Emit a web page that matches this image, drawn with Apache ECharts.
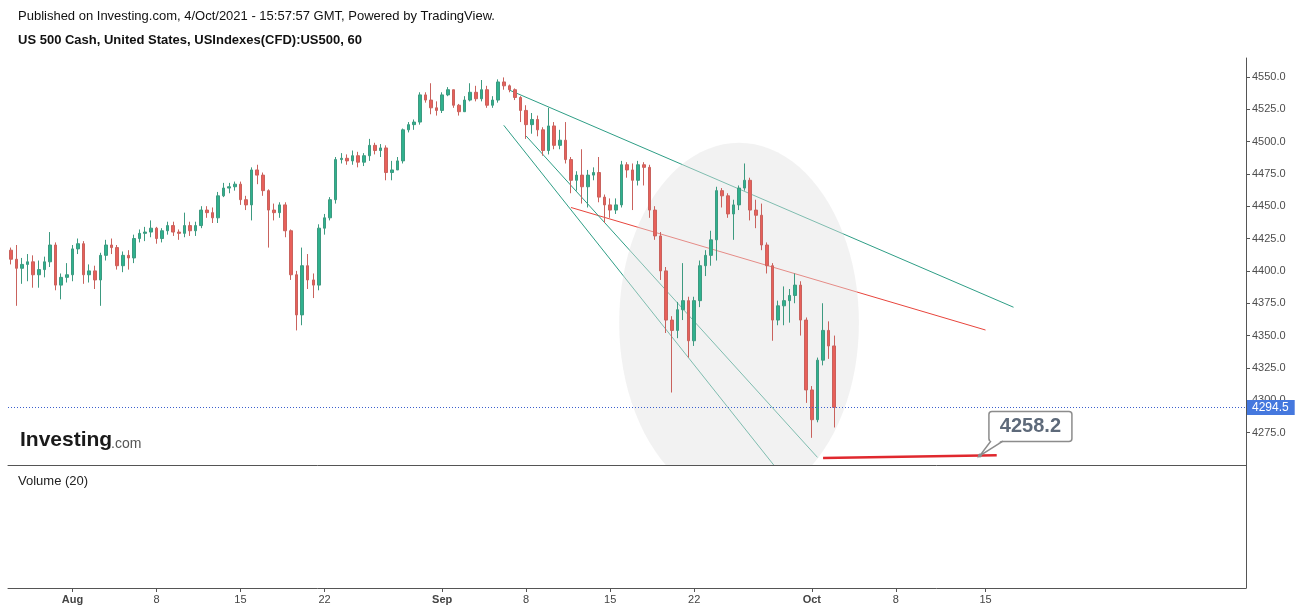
<!DOCTYPE html>
<html>
<head>
<meta charset="utf-8">
<title>US 500 Cash, 60</title>
<script src="https://cdn.jsdelivr.net/npm/echarts@6/dist/echarts.min.js"></script>
<style>
html, body { margin: 0; padding: 0; background: #fff; }
#main { width: 1299px; height: 612px; }
</style>
</head>
<body>
<div id="main"></div>
<script>
// trading sessions on the time axis, each one cut into 8h slots
var tradingDays = ['07-27','07-28','07-29','07-30',
	'08-02','08-03','08-04','08-05','08-06','08-09','08-10','08-11','08-12','08-13',
	'08-16','08-17','08-18','08-19','08-20','08-23','08-24','08-25','08-26','08-27',
	'08-30','08-31','09-01','09-02','09-03','09-06','09-07','09-08','09-09','09-10',
	'09-13','09-14','09-15','09-16','09-17','09-20','09-21','09-22','09-23','09-24',
	'09-27','09-28','09-29','09-30','10-01','10-04','10-05','10-06','10-07','10-08',
	'10-11','10-12','10-13','10-14','10-15','10-18','10-19','10-20','10-21','10-22',
	'10-25','10-26','10-27','10-28','10-29','11-01','11-02','11-03','11-04','11-05','11-08'];
var shortDays = ['07-27', '09-06'];
var slotCount = 221;

// date ticks on the time axis (slot index -> text)
var tickSlots = [11, 26, 41, 56, 77, 92, 107, 122, 143, 158, 174];
var tickTexts = ['Aug', '8', '15', '22', 'Sep', '8', '15', '22', 'Oct', '8', '15'];
var monthTicks = ['Aug', 'Sep', 'Oct'];

// US500 candles, 8h slots
var open = [4416,4409,4402,4405,4407,4397,4401,4407,4420,4389,
	4395,4397,4417,4421,4397,4400,4393,4412,4420,4418,
	4404,4412,4410,4425,4429,4430,4433,4425,4431,4435,
	4430,4429,4435,4431,4435,4447,4445,4441,4458,4464,
	4465,4467,4455,4451,4478,4474,4462,4447,4445,4451,
	4431,4397,4366,4404,4393,4389,4433,4441,4455,4486,
	4487,4485,4489,4484,4489,4497,4493,4495,4476,4478,
	4485,4509,4513,4515,4536,4532,4526,4524,4536,4540,
	4528,4523,4532,4538,4533,4540,4528,4532,4546,4543,
	4540,4534,4524,4513,4517,4509,4493,4512,4497,4501,
	4486,4470,4474,4465,4474,4476,4457,4451,4447,4451,
	4482,4478,4470,4482,4480,4447,4427,4400,4362,4354,
	4370,4377,4346,4377,4404,4412,4424,4462,4458,4444,
	4451,4464,4470,4447,4443,4420,4404,4362,4373,4377,
	4381,4389,4362,4308,4285,4331,4354,4342];
var close = [4409,4402,4405,4407,4397,4401,4407,4420,4389,4395,
	4397,4417,4421,4397,4400,4393,4412,4420,4418,4404,
	4412,4410,4425,4429,4430,4433,4425,4431,4435,4430,
	4429,4435,4431,4435,4447,4445,4441,4458,4464,4465,
	4467,4455,4451,4478,4474,4462,4447,4445,4451,4431,
	4397,4366,4404,4393,4389,4433,4441,4455,4486,4487,
	4485,4489,4484,4489,4497,4493,4495,4476,4478,4485,
	4509,4513,4515,4536,4532,4526,4524,4536,4540,4528,
	4523,4532,4538,4533,4540,4528,4532,4546,4543,4540,
	4534,4524,4513,4517,4509,4493,4512,4497,4501,4486,
	4470,4474,4465,4474,4476,4457,4451,4447,4451,4482,
	4478,4470,4482,4480,4447,4427,4400,4362,4354,4370,
	4377,4346,4377,4404,4412,4424,4462,4458,4444,4451,
	4464,4470,4447,4443,4420,4404,4362,4373,4377,4381,
	4389,4362,4308,4285,4331,4354,4342,4294.5];
var low = [4405,4373,4390,4392,4387,4387,4395,4403,4385,4378,
	4391,4392,4413,4390,4391,4386,4373,4408,4413,4401,
	4399,4401,4406,4422,4423,4426,4421,4422,4428,4427,
	4424,4426,4427,4427,4433,4441,4437,4437,4457,4460,
	4462,4451,4447,4439,4467,4458,4418,4439,4441,4426,
	4393,4354,4358,4386,4379,4385,4428,4439,4452,4483,
	4482,4482,4480,4481,4485,4490,4488,4470,4470,4478,
	4483,4507,4509,4513,4530,4521,4520,4522,4535,4526,
	4520,4523,4531,4531,4531,4526,4526,4530,4540,4538,
	4532,4515,4502,4506,4504,4489,4490,4494,4494,4483,
	4460,4462,4452,4449,4470,4453,4437,4441,4444,4449,
	4472,4447,4466,4466,4441,4424,4393,4352,4306,4348,
	4362,4333,4342,4372,4396,4404,4408,4449,4441,4424,
	4447,4462,4439,4433,4416,4398,4346,4358,4358,4360,
	4375,4350,4298,4271,4283,4327,4332,4279];
var high = [4418,4420,4410,4413,4412,4408,4411,4430,4422,4398,
	4406,4420,4425,4423,4405,4404,4414,4424,4425,4420,
	4415,4416,4428,4432,4434,4439,4434,4433,4438,4438,
	4432,4445,4438,4438,4450,4450,4449,4461,4468,4468,
	4469,4469,4458,4480,4482,4476,4463,4452,4453,4453,
	4432,4400,4418,4413,4398,4436,4444,4457,4488,4491,
	4490,4493,4492,4491,4502,4499,4498,4497,4485,4488,
	4510,4515,4517,4538,4538,4545,4531,4538,4542,4540,
	4529,4535,4545,4543,4547.5,4543,4535,4548,4549.5,4544,
	4541,4535,4528,4522,4520,4511,4526,4515,4509,4515,
	4488,4477,4494,4478,4480,4488,4459,4456,4456,4485,
	4484,4483,4485,4484,4482,4450,4430,4403,4365,4376,
	4406,4380,4380,4408,4416,4431,4465,4464,4460,4455,
	4466,4483,4472,4455,4452,4422,4406,4377,4388,4386,
	4398,4392,4364,4311,4333,4375,4361,4350];
var lastPrice = 4294.5;

// drawings: [slot, price] end points
var trendLines = [
	[[89, 4539.7], [179, 4371.9]],
	[[100, 4449.0], [174, 4354.3]],
	[[88, 4512.5], [137, 4245.6]],
	[[92, 4504.2], [144, 4255.9]]
];
var supportLine = [[145, 4255.5], [176, 4257.6]];
var calloutPoint = [173, 4257.3];
var calloutText = '4258.2';
var zoneCenter = [130, 4360];
var zoneRadius = [21.4, 139]; // slots, points

var FONT = '"Liberation Sans", Arial, sans-serif';
var upColor = '#2fb18e';
var downColor = '#e8605a';
var lineColors = ['#2e9e86', '#e8453c', '#2e9e86', '#2e9e86'];

var categories = [];
for (var d = 0; d < tradingDays.length && categories.length < slotCount; d++) {
	var parts = shortDays.indexOf(tradingDays[d]) >= 0 ? ['08h', '16h'] : ['00h', '08h', '16h'];
	for (var k = 0; k < parts.length && categories.length < slotCount; k++) {
		categories.push(tradingDays[d] + ' ' + parts[k]);
	}
}

var candleData = open.map(function (o, i) {
	return [o, close[i], low[i], high[i]];
});

function isTick(index) {
	return tickSlots.indexOf(index) >= 0;
}

function renderSegment(width, colors) {
	return function (params, api) {
		var p1 = api.coord([api.value(0), api.value(1)]);
		var p2 = api.coord([api.value(2), api.value(3)]);
		return {
			type: 'line',
			shape: { x1: p1[0], y1: p1[1], x2: p2[0], y2: p2[1] },
			style: { stroke: colors[params.dataIndex % colors.length], lineWidth: width }
		};
	};
}

var myChart = echarts.init(document.getElementById('main'));
var option = {
	animation: false,
	backgroundColor: '#fff',
	textStyle: { fontFamily: FONT },
	graphic: [
		{ type: 'text', left: 18, top: 10, style: { text: 'Published on Investing.com, 4/Oct/2021 - 15:57:57 GMT, Powered by TradingView.', font: '13px ' + FONT, fill: '#111' } },
		{ type: 'text', left: 18, top: 34, style: { text: 'US 500 Cash, United States, USIndexes(CFD):US500, 60', font: 'bold 13px ' + FONT, fill: '#111' } },
		{ type: 'text', left: 20, top: 430, style: { text: 'Investing', font: 'bold 21px ' + FONT, fill: '#1a1a1a' } },
		{ type: 'text', left: 111, top: 437, style: { text: '.com', font: '14px ' + FONT, fill: '#555' } },
		{ type: 'text', left: 18, top: 475, style: { text: 'Volume (20)', font: '13px ' + FONT, fill: '#222' } }
	],
	grid: [
		{ left: 8, right: 53, top: 58, height: 407 },
		{ left: 8, right: 53, top: 465, height: 123 }
	],
	xAxis: [{
		type: 'category',
		gridIndex: 0,
		data: categories,
		boundaryGap: true,
		axisLine: { show: true, lineStyle: { color: '#555', width: 1 } },
		axisTick: { show: false },
		axisLabel: { show: false },
		splitLine: { show: false }
	}, {
		type: 'category',
		gridIndex: 1,
		data: categories,
		boundaryGap: true,
		axisLine: { show: true, lineStyle: { color: '#555', width: 1 } },
		axisTick: { show: true, alignWithLabel: true, interval: isTick, length: 4, lineStyle: { color: '#555' } },
		axisLabel: {
			interval: isTick,
			margin: 6,
			fontSize: 11,
			color: '#444',
			fontFamily: FONT,
			formatter: function (value, index) {
				var t = tickTexts[tickSlots.indexOf(index)];
				if (t === undefined) return '';
				return monthTicks.indexOf(t) >= 0 ? '{m|' + t + '}' : t;
			},
			rich: { m: { fontWeight: 'bold', fontSize: 11, color: '#444', fontFamily: FONT } }
		},
		splitLine: { show: false }
	}],
	yAxis: [{
		type: 'value',
		gridIndex: 0,
		position: 'right',
		min: 4250,
		max: 4564.5,
		interval: 25,
		splitLine: { show: false },
		axisLine: { show: true, lineStyle: { color: '#555', width: 1 } },
		axisTick: { show: true, length: 4, lineStyle: { color: '#555' } },
		axisLabel: {
			margin: 6,
			fontSize: 11,
			color: '#4d4d4d',
			fontFamily: FONT,
			showMinLabel: false,
			showMaxLabel: false,
			formatter: function (v) { return v.toFixed(1); }
		}
	}, {
		type: 'value',
		gridIndex: 1,
		position: 'right',
		min: 0,
		max: 1,
		splitLine: { show: false },
		axisLine: { show: true, lineStyle: { color: '#555', width: 1 } },
		axisTick: { show: false },
		axisLabel: { show: false }
	}],
	series: [{
		// trend channel lines (under the zone)
		type: 'custom',
		xAxisIndex: 0,
		yAxisIndex: 0,
		z: 1,
		clip: true,
		silent: true,
		data: trendLines.map(function (l) { return [l[0][0], l[0][1], l[1][0], l[1][1]]; }),
		encode: { x: [0, 2], y: [1, 3] },
		renderItem: renderSegment(1, lineColors)
	}, {
		// grey ellipse zone
		type: 'custom',
		xAxisIndex: 0,
		yAxisIndex: 0,
		z: 2,
		clip: true,
		silent: true,
		data: [zoneCenter],
		renderItem: function (params, api) {
			var c = api.coord([api.value(0), api.value(1)]);
			var rx = zoneRadius[0] * api.size([1, 0])[0];
			var ry = api.size([0, zoneRadius[1]])[1];
			var pts = [];
			for (var a = 0; a < 96; a++) {
				var t = a / 96 * Math.PI * 2;
				pts.push([c[0] + rx * Math.cos(t), c[1] + ry * Math.sin(t)]);
			}
			return { type: 'polygon', shape: { points: pts }, style: { fill: 'rgba(226,226,226,0.45)', stroke: null } };
		}
	}, {
		type: 'candlestick',
		name: 'US500',
		xAxisIndex: 0,
		yAxisIndex: 0,
		z: 3,
		barWidth: '55%',
		data: candleData,
		itemStyle: {
			color: upColor,
			color0: downColor,
			borderColor: '#3d9a80',
			borderColor0: '#c9625d',
			borderWidth: 1
		},
		markLine: {
			silent: true,
			symbol: ['none', 'none'],
			data: [{ yAxis: lastPrice }],
			lineStyle: { color: '#3a5fcd', type: [1, 2], width: 1 },
			label: {
				position: 'end',
				distance: 1,
				formatter: lastPrice.toFixed(1),
				backgroundColor: '#4578de',
				color: '#fff',
				fontSize: 12,
				fontFamily: FONT,
				padding: [2, 6, 1, 5]
			}
		}
	}, {
		// bold support line
		type: 'custom',
		xAxisIndex: 0,
		yAxisIndex: 0,
		z: 4,
		clip: true,
		silent: true,
		data: [[supportLine[0][0], supportLine[0][1], supportLine[1][0], supportLine[1][1]]],
		encode: { x: [0, 2], y: [1, 3] },
		renderItem: renderSegment(2.5, ['#e0282e'])
	}, {
		// price callout
		type: 'custom',
		xAxisIndex: 0,
		yAxisIndex: 0,
		z: 5,
		clip: false,
		silent: true,
		data: [calloutPoint],
		renderItem: function (params, api) {
			var p = api.coord([api.value(0), api.value(1)]);
			var x = p[0], y = p[1];
			return {
				type: 'group',
				children: [
					{ type: 'rect', shape: { x: x + 9, y: y - 44, width: 83, height: 30, r: 3 }, style: { fill: '#fff', stroke: '#8c8c8c', lineWidth: 1.5 } },
					{ type: 'polygon', shape: { points: [[x, y], [x + 11, y - 16], [x + 23, y - 16]] }, style: { fill: '#fff', stroke: null } },
					{ type: 'polyline', shape: { points: [[x + 11, y - 14.5], [x, y], [x + 23, y - 14.5]] }, style: { fill: null, stroke: '#8c8c8c', lineWidth: 1.5 } },
					{ type: 'circle', shape: { cx: x, cy: y, r: 2 }, style: { fill: '#8c8c8c' } },
					{ type: 'text', style: { text: calloutText, x: x + 50.5, y: y - 29, align: 'center', verticalAlign: 'middle', font: 'bold 20px ' + FONT, fill: '#5e6a7a' } }
				]
			};
		}
	}]
};
myChart.setOption(option);
</script>
</body>
</html>
